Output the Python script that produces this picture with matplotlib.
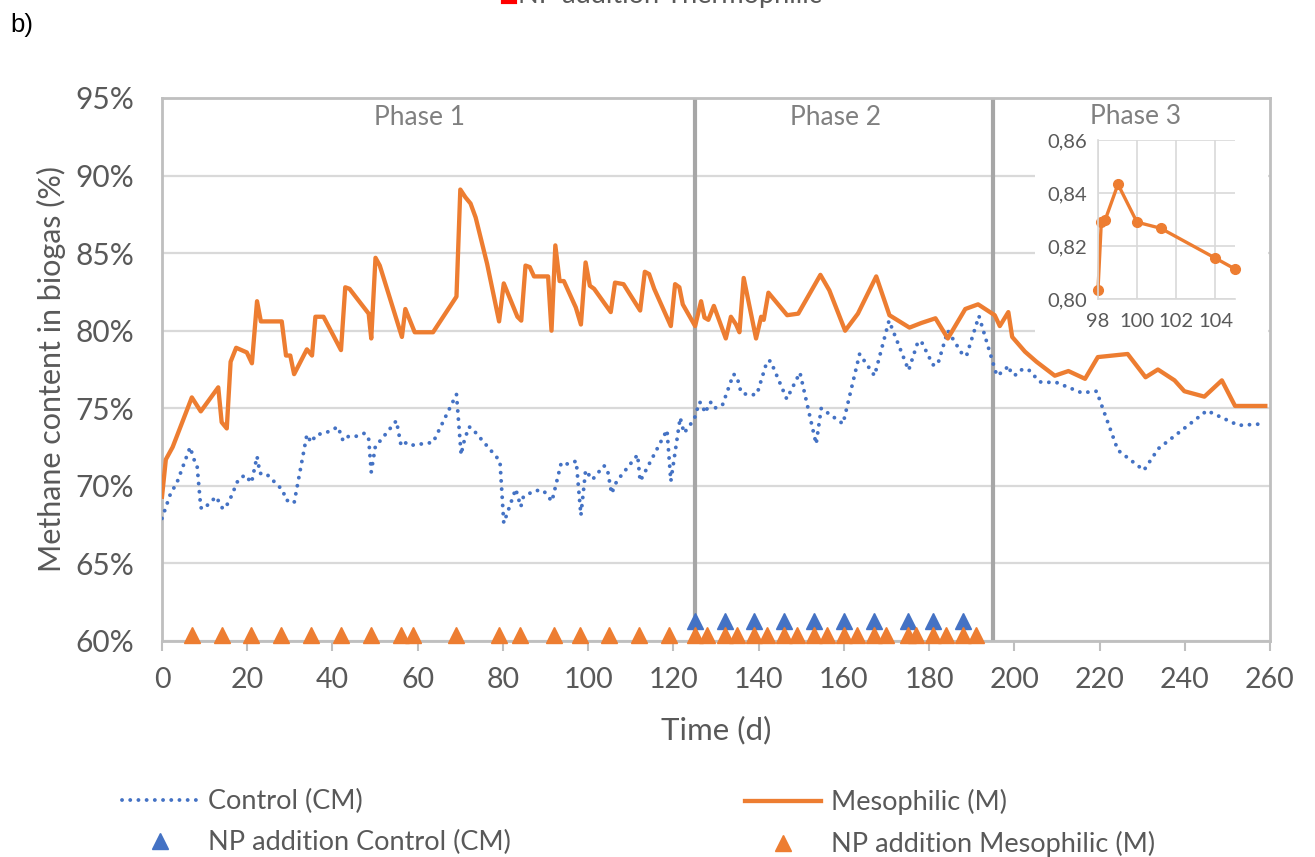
import matplotlib
matplotlib.use("Agg")
import matplotlib.pyplot as plt
from matplotlib.lines import Line2D
from matplotlib.ticker import FuncFormatter

plt.rcParams['font.family'] = ['Lato', 'DejaVu Sans']

# ---------------- data ----------------
control_days = [0, 2, 3.5, 6.6, 7.5, 8.2, 9.1, 9.7, 12.7, 14.3, 15.6, 17.9, 19.5, 21, 22.3, 23,
                24.4, 28.4, 29, 31, 34, 35, 36.2, 38.3, 41.3, 42.5, 43.8, 45.6, 47.6, 48.5, 49.1,
                50.1, 51.2, 55, 56.1, 57, 58.1, 63.6, 69.1, 70.2, 70.7, 72, 72.6, 79.3, 80.2, 83,
                84.2, 84.8, 87.5, 89.5, 91.5, 93.7, 95.3, 97.2, 98.3, 99.4, 101, 103.7, 104.5,
                105.5, 106.7, 111.6, 112.2, 118.5, 119.4, 121.6, 122.5, 124.9, 126.1, 126.7, 127.4,
                128.7, 129.6, 131.5, 134.1, 134.9, 135.9, 137.8, 139.6, 142, 142.8, 146.6, 149.7,
                153.5, 154.7, 159.8, 163.7, 167.2, 170.6, 175.2, 177.4, 178.2, 180.9, 182, 184.4,
                188, 188.8, 191.7, 195.9, 197.5, 198.7, 199.3, 200.5, 201.8, 203.3, 206, 210,
                215.8, 219.3, 224.3, 230.4, 233.8, 245.2, 252.6, 258.7]
control_vals = [67.9, 69.5, 70.2, 72.5, 71.7, 71.4, 68.6, 68.5, 69.3, 68.5, 68.9, 70.4, 70.7, 70.2,
                71.9, 70.8, 70.8, 69.7, 69.1, 68.9, 73.3, 72.8, 73.3, 73.4, 73.8, 72.9, 73.2, 73.2,
                73.4, 73.0, 70.9, 72.6, 72.9, 74.2, 72.6, 72.8, 72.6, 72.8, 75.9, 72.0, 72.7, 73.8,
                73.75, 71.6, 67.6, 69.8, 68.65, 69.3, 69.7, 69.7, 69.0, 71.5, 71.4, 71.6, 68.1,
                71.0, 70.4, 71.3, 71.1, 69.5, 70.3, 72.0, 70.3, 73.6, 70.3, 74.4, 73.4, 74.3, 75.4,
                75.3, 74.7, 75.4, 75.0, 75.2, 77.2, 77.05, 76.0, 75.85, 75.9, 78.05, 78.05, 75.6,
                77.3, 72.7, 75.0, 74.0, 78.5, 77.1, 80.65, 77.45, 79.3, 79.3, 77.8, 77.8, 80.0,
                78.4, 78.4, 80.95, 77.1, 77.4, 77.75, 77.2, 77.15, 77.5, 77.5, 76.7, 76.65, 76.0,
                76.1, 72.3, 71.0, 72.4, 74.85, 73.9, 74.0]

meso_days = [0, 0.9, 2.5, 7, 9.1, 13.2, 14, 15.2, 16.1, 17.4, 19.9, 21.1, 22.3, 23.2, 28.1, 29.1,
             30.1, 31, 34, 35.2, 36, 37.9, 42, 43, 44, 48.5, 49.1, 50.1, 51.1, 56.3, 57.1, 59.3,
             63.6, 69.1, 70, 71.2, 72.4, 73.6, 76.3, 79.1, 80.2, 83.4, 84.3, 85.3, 86.3, 87.3,
             90.6, 91.4, 92.3, 93.3, 94.3, 97.1, 98.3, 99.4, 100.4, 101.4, 105.3, 106.3, 108.3,
             112.2, 113.3, 114.3, 115.5, 119.4, 120.4, 121.4, 122.2, 125.1, 126.5, 127.3, 128.2,
             129.5, 132.3, 133.5, 134.7, 135.5, 136.5, 139.4, 140.6, 141.2, 142.3, 146.7, 149.3,
             154.5, 156.6, 160.3, 163.3, 167.6, 170.7, 175.4, 178.2, 181.5, 184.4, 188.5, 191.5,
             195.4, 196.6, 198.6, 199.5, 202.5, 205.2, 209.5, 212.7, 216.6, 219.6, 226.6, 230.8,
             233.7, 237.6, 239.9, 244.6, 248.7, 251.8, 258.9]
meso_vals = [69.3, 71.7, 72.5, 75.7, 74.8, 76.35, 74.1, 73.7, 78.0, 78.9, 78.6, 77.9, 81.9, 80.6,
             80.6, 78.4, 78.4, 77.2, 78.8, 78.4, 80.9, 80.9, 78.75, 82.8, 82.7, 81.1, 79.5, 84.7,
             84.2, 79.6, 81.4, 79.9, 79.9, 82.2, 89.1, 88.6, 88.2, 87.3, 84.3, 80.6, 83.05, 80.9,
             80.65, 84.2, 84.1, 83.5, 83.5, 80.0, 85.5, 83.2, 83.2, 81.5, 80.4, 84.4, 82.9, 82.7,
             81.2, 83.1, 83.0, 81.3, 83.8, 83.65, 82.7, 80.3, 83.0, 82.8, 81.7, 80.3, 81.9, 80.85,
             80.7, 81.6, 79.5, 80.9, 80.4, 79.9, 83.4, 79.5, 80.9, 80.7, 82.45, 81.0, 81.1, 83.6,
             82.6, 80.0, 81.1, 83.5, 81.0, 80.2, 80.5, 80.8, 79.5, 81.4, 81.7, 81.0, 80.3, 81.2,
             79.6, 78.65, 78.0, 77.1, 77.4, 76.9, 78.3, 78.5, 77.0, 77.5, 76.8, 76.1, 75.75,
             76.8, 75.15, 75.15]

np_control_days = [125, 132, 139, 146, 153, 160, 167, 175, 181, 188]
np_control_level = 61.3
np_meso_days = [7, 14, 21, 28, 35, 42, 49, 56, 59, 69, 79, 84, 92, 98, 105, 112, 119, 125, 128,
                132, 135, 139, 142, 146, 149, 153, 156, 160, 163, 167, 170, 175, 177, 181, 184,
                188, 191]
np_meso_level = 60.4

phase_bounds = [125, 195]
phase_labels = ["Phase 1", "Phase 2", "Phase 3"]

inset_days = [98.0, 98.17, 98.37, 99.02, 99.99, 101.2, 104.0, 104.98]
inset_vals = [0.8035, 0.8292, 0.8299, 0.8433, 0.829, 0.8267, 0.8154, 0.8114]

x_ticks = list(range(0, 261, 20))
y_ticks = list(range(60, 96, 5))

# ---------------- styling ----------------
ORANGE = '#ED7D31'
BLUE = '#4472C4'
GRID = '#D9D9D9'
BOX = '#BFBFBF'
PHASE = '#A6A6A6'
TXT = '#595959'

W, H = 1315, 857
fig = plt.figure(figsize=(W / 100, H / 100), dpi=100)

def fx(px):
    return px / W

def fy(py):
    return 1 - py / H

ax = fig.add_axes([fx(162), fy(641), fx(1270) - fx(162), fy(98) - fy(641)])
ax.set_xlim(0, 260)
ax.set_ylim(60, 95)
ax.set_xticks(x_ticks)
ax.set_yticks(y_ticks)
ax.yaxis.set_major_formatter(FuncFormatter(lambda v, p: f"{int(round(v))}%"))
ax.grid(axis='y', color=GRID, lw=1.6, zorder=0)
ax.set_axisbelow(True)
for s in ax.spines.values():
    s.set_color(BOX)
    s.set_linewidth(2)
ax.tick_params(axis='x', colors=BOX, length=7, width=1.5, labelcolor=TXT, labelsize=20.5, pad=12)
ax.tick_params(axis='y', length=0, labelcolor=TXT, labelsize=21.5, pad=20)

for b in phase_bounds:
    ax.axvline(b, color=PHASE, lw=3, zorder=1)

ax.plot(control_days, control_vals, color=BLUE, lw=2.8, linestyle=(0, (0.01, 2.1)),
        dash_capstyle='round', zorder=3, label='Control (CM)')
ax.plot(meso_days, meso_vals, color=ORANGE, lw=3.1, zorder=3, solid_joinstyle='round',
        label='Mesophilic (M)')
ax.plot(np_control_days, [np_control_level] * len(np_control_days), linestyle='none',
        marker='^', ms=12, color=BLUE, mec=BLUE, clip_on=False, zorder=4,
        label='NP addition Control (CM)')
ax.plot(np_meso_days, [np_meso_level] * len(np_meso_days), linestyle='none',
        marker='^', ms=12, color=ORANGE, mec=ORANGE, clip_on=False, zorder=5,
        label='NP addition Mesophilic (M)')

ax.set_xlabel('Time (d)', fontsize=22.5, color=TXT, labelpad=16)
ax.set_ylabel('Methane content in biogas (%)', fontsize=22, color=TXT, labelpad=7)

# phase labels
ax.text(60.5, 93.75, phase_labels[0], ha='center', va='center', fontsize=19, color='#808080', zorder=6)
ax.text(158, 93.75, phase_labels[1], ha='center', va='center', fontsize=19, color='#808080', zorder=6)

# inset background
bg = fig.add_axes([fx(1035), fy(342), fx(1268) - fx(1035), fy(100) - fy(342)])
bg.set_facecolor('white')
bg.set_xticks([]); bg.set_yticks([])
for s in bg.spines.values():
    s.set_visible(False)
bg.text(0.43, 0.93, phase_labels[2], transform=bg.transAxes, ha='center', va='center',
        fontsize=19, color='#808080')

ins = fig.add_axes([fx(1098), fy(299), fx(1235) - fx(1098), fy(140) - fy(299)])
ins.set_xlim(98, 105)
ins.set_ylim(0.80, 0.86)
ins.set_xticks([98, 100, 102, 104])
ins.set_yticks([0.80, 0.82, 0.84, 0.86])
ins.yaxis.set_major_formatter(FuncFormatter(lambda v, p: f"{v:.2f}".replace('.', ',')))
ins.grid(True, color=GRID, lw=1.2)
ins.set_axisbelow(True)
ins.set_facecolor('white')
for k, s in ins.spines.items():
    if k in ('top', 'right'):
        s.set_visible(False)
    else:
        s.set_color(GRID)
        s.set_linewidth(1.2)
ins.tick_params(axis='y', length=0, labelcolor=TXT, labelsize=14.5, pad=8)
ins.tick_params(axis='x', length=0, labelcolor=TXT, labelsize=14.5, pad=10)
ins.plot(inset_days, inset_vals, color=ORANGE, lw=2.4, marker='o', ms=7, clip_on=False)

# legends
common = dict(loc='upper left', frameon=False, fontsize=19.5, handlelength=2.8,
              handletextpad=0.37, borderpad=0, borderaxespad=0, labelspacing=0.6,
              labelcolor=TXT)
leg1 = fig.legend(handles=[ax.lines[2], ax.lines[4]], bbox_to_anchor=(fx(122), fy(789)), **common)
leg2 = fig.legend(handles=[ax.lines[3], ax.lines[5]], bbox_to_anchor=(fx(745), fy(789)), **common)

# cut-off legend entry at the very top and panel label
fig.add_artist(Line2D([fx(503), fx(515)], [fy(2), fy(2)], color='#FF0000', lw=3))
fig.text(fx(518), fy(2.5), 'NP addition Thermophilic', fontsize=19.5, color=TXT,
         va='baseline', ha='left')
fig.text(fx(10), fy(25), 'b)', fontsize=18.5, color='black', va='center', ha='left',
         family=['Liberation Sans', 'DejaVu Sans'])

fig.savefig('out.png', dpi=100)
